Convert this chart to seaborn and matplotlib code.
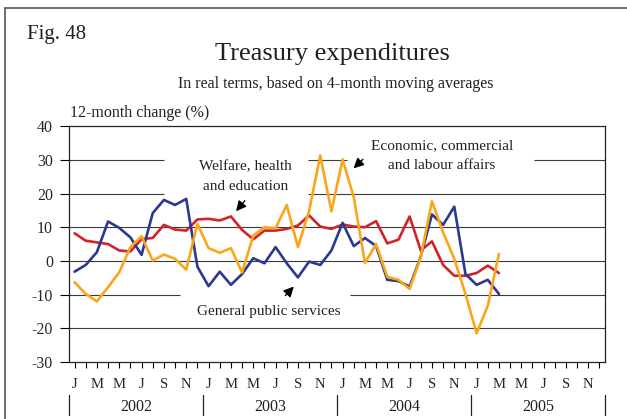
# Treasury expenditures - 12-month change, 4-month moving averages

import pandas as pd
import numpy as np
import seaborn as sns
from matplotlib import pyplot as plt
from matplotlib.lines import Line2D

# data, monthly from Jan 2002 to Mar 2005
general_public = [-3.2, -1.2, 2.6, 11.7, 9.8, 7.0, 1.8, 14.2, 18.1, 16.6, 18.4, -1.7,
                  -7.5, -3.2, -7.1, -3.9, 0.8, -0.7, 4.1, -0.7, -4.9, -0.2, -1.2, 3.1,
                  11.3, 4.4, 6.8, 4.4, -5.6, -6.0, -7.6, 1.3, 13.8, 10.7, 16.1, -3.9,
                  -7.1, -5.6, -9.8]
welfare = [8.2, 6.0, 5.5, 5.0, 3.1, 2.8, 6.5, 6.8, 10.7, 9.3, 9.0, 12.3,
           12.5, 12.0, 13.2, 9.2, 6.4, 9.0, 9.0, 9.5, 10.5, 13.5, 10.2, 9.5,
           10.8, 10.2, 10.0, 11.8, 5.2, 6.3, 13.2, 3.1, 5.8, -1.2, -4.4, -4.4,
           -3.6, -1.4, -3.6]
economic = [-6.3, -9.8, -12.0, -7.8, -3.4, 4.1, 7.3, 0.1, 1.9, 0.6, -2.6, 11.0,
            3.8, 2.4, 3.8, -3.4, 7.5, 10.0, 9.7, 16.6, 4.1, 14.8, 31.3, 14.7,
            30.1, 18.9, -0.6, 5.0, -4.7, -5.6, -8.3, 1.1, 17.7, 8.5, 0.6, -9.8,
            -21.5, -13.3, 2.1]

years = ['2002', '2003', '2004', '2005']
month_letters = ['J', 'F', 'M', 'A', 'M', 'J', 'J', 'A', 'S', 'O', 'N', 'D']
y_ticks = [40, 30, 20, 10, 0, -10, -20, -30]

# build one long table for seaborn
n = len(welfare)
df = pd.DataFrame({
    'month': list(range(n)) * 3,
    'value': general_public + welfare + economic,
    'series': ['General public services'] * n + ['Welfare'] * n + ['Economic'] * n,
})
palette = {'General public services': '#2b3990', 'Welfare': '#d2232a', 'Economic': '#f9a61a'}

sns.set_theme(style='ticks')
plt.rcParams['font.family'] = ['Liberation Serif', 'DejaVu Serif']
plt.rcParams['text.color'] = '#231f20'

fig = plt.figure(figsize=(6.27, 4.19), dpi=100)
ax = fig.add_axes([0.110, 0.136, 0.855, 0.563])

# gridlines with gaps behind the labels (x in month units)
grid_segments = [
    (30, -0.5, 8.0), (30, 20.9, 24.4), (30, 41.1, 47.5),
    (20, -0.5, 8.0), (20, 20.9, 47.5),
    (10, -0.5, 47.5), (0, -0.5, 47.5),
    (-10, -0.5, 9.4), (-10, 24.7, 47.5),
    (-20, -0.5, 47.5),
]
for lvl, x0, x1 in grid_segments:
    ax.hlines(lvl, x0, x1, color='#3a3a3a', lw=0.8, zorder=1)

sns.lineplot(data=df, x='month', y='value', hue='series', palette=palette,
             hue_order=['Welfare', 'General public services', 'Economic'],
             linewidth=1.9, legend=False, ax=ax, zorder=3)

ax.set_xlim(-0.5, 47.5)
ax.set_ylim(-30, 40)
ax.set_xlabel('')
ax.set_ylabel('')

ax.set_yticks(y_ticks)
ax.set_yticklabels([str(v) for v in y_ticks], fontsize=11.5)
ax.set_xticks(range(48))
ax.set_xticklabels([month_letters[i % 12] if i % 2 == 0 else '' for i in range(48)], fontsize=10.5)
ax.tick_params(axis='y', direction='out', length=6.5, width=0.8, pad=5, color='black')
ax.tick_params(axis='x', direction='out', length=4.3, width=0.8, pad=7, color='black')
for s in ax.spines.values():
    s.set_color('#222222')
    s.set_linewidth(0.9)

# year labels and separators under the month letters
for k, yr in enumerate(years):
    ax.text(12 * k + 5.5, -0.208, yr, transform=ax.get_xaxis_transform(),
            ha='center', va='baseline', fontsize=11.5)
for k in range(len(years) + 1):
    ax.plot([12 * k - 0.5] * 2, [-0.14, -0.225], transform=ax.get_xaxis_transform(),
            color='#222222', lw=0.9, clip_on=False)

# series labels with arrows
arrow_style = dict(arrowstyle='-|>', color='black', lw=1.0, mutation_scale=15)
ax.text(15.3, 25, 'Welfare, health\nand education', ha='center', va='center',
        fontsize=11, linespacing=1.65)
ax.annotate('', xy=(14.3, 14.1), xytext=(15.4, 18.5), arrowprops=arrow_style)
ax.text(32.9, 31.35, 'Economic, commercial\nand labour affairs', ha='center', va='center',
        fontsize=11, linespacing=1.65)
ax.annotate('', xy=(24.8, 26.9), xytext=(26.0, 30.7), arrowprops=arrow_style)
ax.text(17.4, -15.1, 'General public services', ha='center', va='center', fontsize=11)
ax.annotate('', xy=(19.8, -7.0), xytext=(18.7, -10.9), arrowprops=arrow_style)

ax.text(0.002, 1.038, '12-month change (%)', transform=ax.transAxes,
        ha='left', va='baseline', fontsize=11.5)

fig.text(0.531, 0.857, 'Treasury expenditures', ha='center', va='baseline', fontsize=19)
fig.text(0.536, 0.790, 'In real terms, based on 4-month moving averages',
         ha='center', va='baseline', fontsize=11.5)
fig.text(0.043, 0.908, 'Fig. 48', ha='left', va='baseline', fontsize=15)

# frame lines on the left and top of the figure
fig.add_artist(Line2D([0.008, 0.008], [0.0, 0.981], color='#555555', lw=1.2))
fig.add_artist(Line2D([0.008, 1.0], [0.981, 0.981], color='#555555', lw=1.2))

fig.savefig('out.png', dpi=100)
